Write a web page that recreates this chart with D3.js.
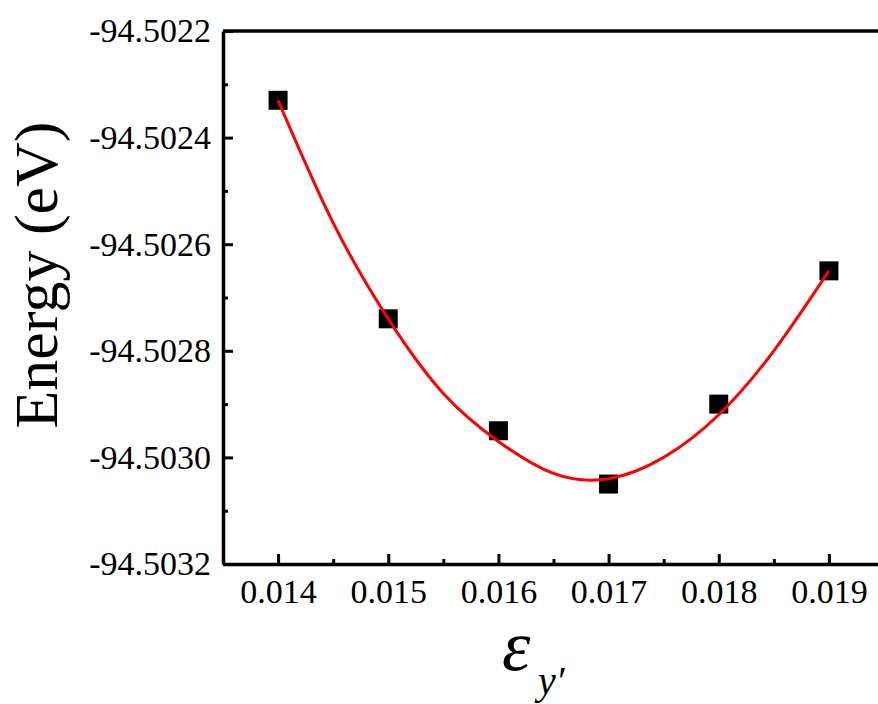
<!DOCTYPE html>
<html>
<head>
<meta charset="utf-8">
<script src="https://cdn.jsdelivr.net/npm/d3@7"></script>
<style>
  body { margin: 0; background: #fff; }
  svg { display: block; }
  svg text { font-family: "Liberation Serif", "Times New Roman", Times, "DejaVu Serif", serif; }
</style>
</head>
<body>
<div id="chart"></div>
<script>
// energy vs strain, points + quadratic fit curve

var strain = [0.014, 0.015, 0.016, 0.017, 0.018, 0.019]
var energy = [-94.50233, -94.50274, -94.50295, -94.50305, -94.50290, -94.50265]

// fit curve as it appears in the figure
var fitStrain = [0.0140, 0.0145, 0.0150, 0.0155, 0.0160, 0.0165, 0.0170, 0.0175, 0.0180, 0.0185, 0.0190]
var fitEnergy = [-94.50233, -94.50256, -94.50274, -94.50288, -94.50297, -94.50303, -94.50304, -94.50300, -94.50292, -94.50280, -94.50265]

var xTicks = [0.014, 0.015, 0.016, 0.017, 0.018, 0.019]
var xTickLabels = ["0.014", "0.015", "0.016", "0.017", "0.018", "0.019"]
var xMinor = [0.0135, 0.0145, 0.0155, 0.0165, 0.0175, 0.0185]
var yTicks = [-94.5032, -94.5030, -94.5028, -94.5026, -94.5024, -94.5022]
var yTickLabels = ["-94.5032", "-94.5030", "-94.5028", "-94.5026", "-94.5024", "-94.5022"]
var yMinor = [-94.5031, -94.5029, -94.5027, -94.5025, -94.5023]

var width = 878
var height = 704
var margin = ({ top: 31, right: -6, bottom: 140, left: 223 })

var svg = d3.select("#chart")
    .append("svg")
    .attr("width", width)
    .attr("height", height)

var x = d3.scaleLinear()
    .domain([0.0135, 0.0195])
    .range([margin.left, width - margin.right])

var y = d3.scaleLinear()
    .domain([-94.5032, -94.5022])
    .range([height - margin.bottom, margin.top])

// top frame line
svg.append("line")
    .attr("x1", margin.left)
    .attr("x2", width)
    .attr("y1", y(-94.5022))
    .attr("y2", y(-94.5022))
    .attr("stroke", "#000")
    .attr("stroke-width", 3.5)

// x axis, ticks pointing inward
var xAxis = svg.append("g")
    .attr("transform", `translate(0,${y(-94.5032)})`)
    .call(d3.axisBottom(x)
        .tickValues(xTicks)
        .tickFormat((d, i) => xTickLabels[i])
        .tickSizeInner(-10)
        .tickSizeOuter(0)
        .tickPadding(15))
xAxis.attr("font-family", null)
xAxis.select(".domain").attr("stroke-width", 3.5)
xAxis.selectAll(".tick line").attr("stroke-width", 3)
xAxis.selectAll(".tick text")
    .attr("font-size", 34)
    .attr("fill", "#000")

svg.append("g")
    .attr("transform", `translate(0,${y(-94.5032)})`)
    .call(d3.axisBottom(x).tickValues(xMinor).tickFormat("").tickSizeInner(-5).tickSizeOuter(0))
    .call(g => g.select(".domain").remove())
    .call(g => g.selectAll(".tick line").attr("stroke-width", 3))

// y axis
var yAxis = svg.append("g")
    .attr("transform", `translate(${x(0.0135)},0)`)
    .call(d3.axisLeft(y)
        .tickValues(yTicks)
        .tickFormat((d, i) => yTickLabels[i])
        .tickSizeInner(-10)
        .tickSizeOuter(0)
        .tickPadding(12))
yAxis.attr("font-family", null)
yAxis.select(".domain").attr("stroke-width", 3.5)
yAxis.selectAll(".tick line").attr("stroke-width", 3)
yAxis.selectAll(".tick text")
    .attr("font-size", 34)
    .attr("fill", "#000")

svg.append("g")
    .attr("transform", `translate(${x(0.0135)},0)`)
    .call(d3.axisLeft(y).tickValues(yMinor).tickFormat("").tickSizeInner(-5).tickSizeOuter(0))
    .call(g => g.select(".domain").remove())
    .call(g => g.selectAll(".tick line").attr("stroke-width", 3))

// data squares
var sq = 19
svg.append("g")
    .selectAll("rect")
    .data(strain)
    .join("rect")
    .attr("x", d => x(d) - sq / 2)
    .attr("y", (d, i) => y(energy[i]) - sq / 2)
    .attr("width", sq)
    .attr("height", sq)
    .attr("fill", "#000")

// fit curve drawn on top
var line = d3.line()
    .x((d, i) => x(fitStrain[i]))
    .y(d => y(d))
    .curve(d3.curveNatural)

svg.append("path")
    .attr("d", line(fitEnergy))
    .attr("fill", "none")
    .attr("stroke", "#ff0000")
    .attr("stroke-width", 3)

// axis titles
svg.append("text")
    .attr("transform", "translate(57,275) rotate(-90)")
    .attr("text-anchor", "middle")
    .attr("font-size", 62)
    .attr("fill", "#000")
    .text("Energy (eV)")

svg.append("text")
    .attr("x", 502)
    .attr("y", 670)
    .attr("font-size", 72)
    .attr("font-style", "italic")
    .attr("fill", "#000")
    .text("ε")

svg.append("text")
    .attr("x", 538)
    .attr("y", 694)
    .attr("font-size", 40)
    .attr("font-style", "italic")
    .attr("fill", "#000")
    .text("y′")
</script>
</body>
</html>
